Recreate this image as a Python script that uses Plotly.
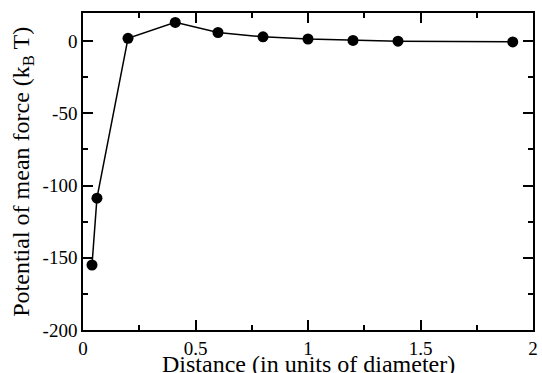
import plotly.graph_objects as go

distance = [0.04, 0.062, 0.2, 0.41, 0.6, 0.8, 1.0, 1.2, 1.4, 1.91]
pmf = [-155, -108.7, 2, 13, 6, 3, 1.5, 0.5, 0, -0.5]
x_ticks = [0, 0.5, 1, 1.5, 2]
x_labels = ["0", "0.5", "1", "1.5", "2"]
y_ticks = [-200, -150, -100, -50, 0]
y_labels = ["-200", "-150", "-100", "-50", "0"]
x_title = "Distance (in units of diameter)"
y_title = "Potential of mean force (k<sub>B</sub> T)"

FAM = "Times New Roman"
fig = go.Figure()
fig.add_trace(go.Scatter(
    x=distance, y=pmf, mode="lines+markers",
    line=dict(color="black", width=1.5),
    marker=dict(color="black", size=11),
    showlegend=False,
))

axis_common = dict(
    showgrid=False, zeroline=False, showline=True, linecolor="black", linewidth=1.5,
    mirror="allticks", ticks="inside", ticklen=10, tickwidth=1.5, tickcolor="black",
    minor=dict(ticks="inside", ticklen=5, tickwidth=1.5, tickcolor="black"),
    tickfont=dict(size=19, family=FAM, color="black"),
    automargin=False,
)
fig.update_xaxes(range=[0, 2], tickvals=x_ticks, ticktext=x_labels, minor_dtick=0.25, minor_tick0=0,
                 **axis_common)
fig.update_yaxes(range=[-200, 19.5], tickvals=y_ticks, ticktext=y_labels, minor_dtick=25, minor_tick0=0,
                 **axis_common)
fig.add_annotation(text=x_title, xref="paper", yref="paper", x=0.5, y=-0.108,
                   xanchor="center", yanchor="middle", showarrow=False,
                   font=dict(size=24, family=FAM, color="black"))
fig.add_annotation(text=y_title, xref="paper", yref="paper", x=-0.135, y=0.5,
                   xanchor="center", yanchor="middle", textangle=-90, showarrow=False,
                   font=dict(size=24, family=FAM, color="black"))
fig.update_layout(
    width=542, height=373,
    margin=dict(l=83, r=9, t=13, b=43),
    plot_bgcolor="white", paper_bgcolor="white",
    font=dict(family=FAM, color="black"),
)
fig.write_html("out.html")
